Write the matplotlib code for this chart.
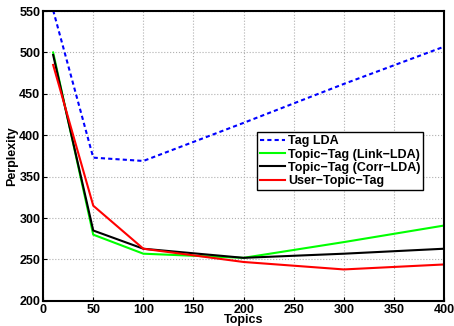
import matplotlib
matplotlib.use("Agg")
import matplotlib.pyplot as plt

topics = [10, 50, 100, 200, 300, 400]
tag_lda = [551, 373, 369, 415, 462, 507]
link_lda = [500, 280, 257, 252, 271, 291]
corr_lda = [497, 285, 263, 252, 257, 263]
user_topic_tag = [485, 315, 263, 247, 238, 244]

plt.rcParams['font.family'] = ['Liberation Sans', 'DejaVu Sans']
plt.rcParams['font.weight'] = 'bold'

fig = plt.figure(figsize=(4.54, 3.26), dpi=100)
ax = fig.add_axes([0.095, 0.077, 0.883, 0.889])

ax.plot(topics, tag_lda, color='#0000ff', linestyle=(0, (2, 1.5)), linewidth=1.5, label='Tag LDA')
ax.plot(topics, link_lda, color='#00ff00', linewidth=1.5, label='Topic\u2212Tag (Link\u2212LDA)')
ax.plot(topics, corr_lda, color='black', linewidth=1.5, label='Topic\u2212Tag (Corr\u2212LDA)')
ax.plot(topics, user_topic_tag, color='#ff0000', linewidth=1.5, label='User\u2212Topic\u2212Tag')

ax.set_xlim(0, 400)
ax.set_ylim(200, 550)
ax.set_xticks(range(0, 401, 50))
ax.set_yticks(range(200, 551, 50))
ax.tick_params(direction='in', labelsize=9, length=3, pad=2)
for lbl in ax.get_xticklabels() + ax.get_yticklabels():
    lbl.set_fontweight('bold')
ax.grid(True, linestyle=':', color='#b0b0b0', linewidth=0.8)
for s in ax.spines.values():
    s.set_linewidth(1.5)

ax.set_xlabel('Topics', fontsize=9, fontweight='bold', labelpad=-1)
ax.set_ylabel('Perplexity', fontsize=9, fontweight='bold', labelpad=1)

leg = ax.legend(loc='upper left', bbox_to_anchor=(0.534, 0.582), fontsize=9,
                handlelength=2.0, handletextpad=0.2, borderpad=0.25, labelspacing=0.1,
                fancybox=False, framealpha=1, edgecolor='black', borderaxespad=0)
leg.get_frame().set_linewidth(1.0)
for t in leg.get_texts():
    t.set_fontweight('bold')

fig.savefig('out.png', dpi=100)
